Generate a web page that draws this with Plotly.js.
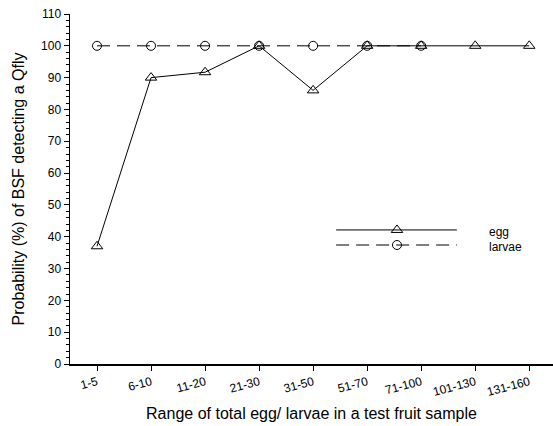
<!DOCTYPE html>
<html>
<head>
<meta charset="utf-8">
<script src="https://cdn.plot.ly/plotly-3.0.1.min.js"></script>
<style>html,body{margin:0;padding:0;background:#fff;}#chart{width:553px;height:426px;}</style>
</head>
<body>
<div id="chart"></div>
<script>
const categories = ["1-5","6-10","11-20","21-30","31-50","51-70","71-100","101-130","131-160"];
const eggValues = [37, 90, 91.7, 100, 86, 100, 100, 100, 100];
const larvaeCategories = ["1-5","6-10","11-20","21-30","31-50","51-70","71-100"];
const larvaeValues = [100, 100, 100, 100, 100, 100, 100];
const seriesNames = ["egg", "larvae"];

const font = "Liberation Sans, Arial, sans-serif";
const larvaeDash = "13px,7px";

const traces = [
  {
    x: larvaeCategories, y: larvaeValues, type: "scatter", mode: "lines+markers",
    line: {color: "#000", width: 1, dash: larvaeDash},
    marker: {symbol: "circle-open", size: 9, color: "#000", line: {width: 1, color: "#000"}},
    showlegend: false, cliponaxis: false
  },
  {
    x: categories, y: eggValues, type: "scatter", mode: "lines+markers",
    line: {color: "#000", width: 1},
    marker: {symbol: "triangle-up-open", size: 10, color: "#000", line: {width: 1, color: "#000"}},
    showlegend: false, cliponaxis: false
  },
  // legend samples on an invisible overlay axis (0..1 fractions of the plot area)
  {
    x: [0.551, 0.677, 0.801], y: [0.383, 0.383, 0.383], xaxis: "x2", yaxis: "y2",
    type: "scatter", mode: "lines", line: {color: "#000", width: 1}, showlegend: false, hoverinfo: "skip"
  },
  {
    x: [0.677], y: [0.383], xaxis: "x2", yaxis: "y2", type: "scatter", mode: "markers",
    marker: {symbol: "triangle-up-open", size: 10, color: "#000", line: {width: 1, color: "#000"}},
    showlegend: false, hoverinfo: "skip"
  },
  {
    x: [0.551, 0.677, 0.801], y: [0.34, 0.34, 0.34], xaxis: "x2", yaxis: "y2",
    type: "scatter", mode: "lines", line: {color: "#000", width: 1, dash: larvaeDash}, showlegend: false, hoverinfo: "skip"
  },
  {
    x: [0.677], y: [0.34], xaxis: "x2", yaxis: "y2", type: "scatter", mode: "markers",
    marker: {symbol: "circle-open", size: 9, color: "#000", line: {width: 1, color: "#000"}},
    showlegend: false, hoverinfo: "skip"
  }
];

const layout = {
  width: 553, height: 426,
  margin: {l: 70, r: 0, t: 14, b: 62},
  paper_bgcolor: "#fff", plot_bgcolor: "#fff",
  font: {family: font, color: "#000", size: 12},
  showlegend: false,
  xaxis: {
    type: "category", categoryorder: "array", categoryarray: categories,
    range: [-0.5, 8.44],
    showgrid: false, zeroline: false, showline: true, linecolor: "#000", linewidth: 1.5,
    ticks: "outside", ticklen: 5, tickcolor: "#000", tickwidth: 1,
    tickangle: -15, tickfont: {size: 12, family: font},
    title: {text: "Range of total egg/ larvae in a test fruit sample", font: {size: 16, family: font}, standoff: 10}
  },
  yaxis: {
    range: [0, 110], dtick: 10, tick0: 0,
    showgrid: false, zeroline: false, showline: true, linecolor: "#000", linewidth: 1.5,
    ticks: "outside", ticklen: 5, tickcolor: "#000", tickwidth: 1,
    minor: {dtick: 2, ticks: "outside", ticklen: 3, tickcolor: "#000", tickwidth: 1, showgrid: false},
    tickfont: {size: 12, family: font},
    title: {text: "Probability (%) of BSF detecting a Qfly", font: {size: 16, family: font}, standoff: 12}
  },
  xaxis2: {overlaying: "x", range: [0, 1], visible: false, fixedrange: true},
  yaxis2: {overlaying: "y", range: [0, 1], visible: false, fixedrange: true},
  annotations: [
    {xref: "x2", yref: "y2", x: 0.863, y: 0.378, text: seriesNames[0], showarrow: false, xanchor: "left", yanchor: "middle", font: {size: 12, family: font}},
    {xref: "x2", yref: "y2", x: 0.863, y: 0.335, text: seriesNames[1], showarrow: false, xanchor: "left", yanchor: "middle", font: {size: 12, family: font}}
  ]
};

Plotly.newPlot("chart", traces, layout, {displayModeBar: false, staticPlot: true});
</script>
</body>
</html>
